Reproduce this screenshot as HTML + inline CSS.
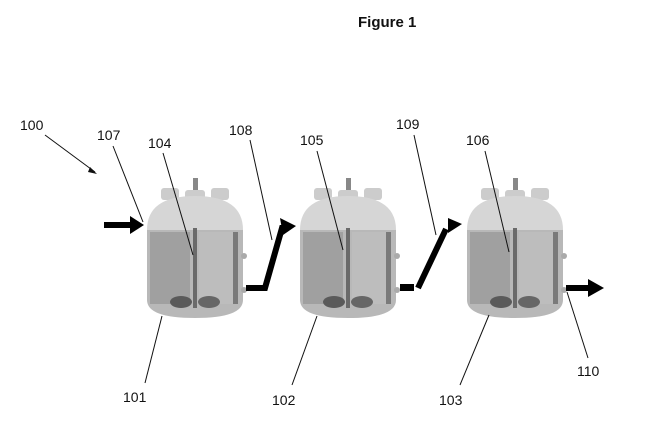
<!DOCTYPE html>
<html><head><style>
body{margin:0;background:#fff;width:652px;height:428px;overflow:hidden}
text{font-family:"Liberation Sans",sans-serif;font-size:14px;fill:#111}
</style></head><body>
<svg width="652" height="428" viewBox="0 0 652 428" xmlns="http://www.w3.org/2000/svg">
<defs>
<g id="v">
<rect x="46" y="0" width="5" height="15" fill="#888"/>
<rect x="14" y="10" width="18" height="12" rx="3" fill="#ccc"/>
<rect x="38" y="12" width="20" height="12" rx="3" fill="#ccc"/>
<rect x="64" y="10" width="18" height="12" rx="3" fill="#ccc"/>
<path d="M0,52 Q0,18 48,18 Q96,18 96,52 Z" fill="#d6d6d6"/>
<path d="M0,52 L96,52 L96,122 Q96,140 48,140 Q0,140 0,122 Z" fill="#b8b8b8"/>
<rect x="3" y="54" width="40" height="72" fill="#a0a0a0"/>
<rect x="52" y="54" width="34" height="72" fill="#bdbdbd"/>
<rect x="86" y="54" width="5" height="72" fill="#7a7a7a"/>
<rect x="46" y="50" width="4" height="80" fill="#6a6a6a"/>
<ellipse cx="34" cy="124" rx="11" ry="6" fill="#5a5a5a"/>
<ellipse cx="62" cy="124" rx="11" ry="6" fill="#666"/>
<circle cx="97" cy="78" r="3" fill="#aaa"/>
<circle cx="97" cy="112" r="3" fill="#aaa"/>
</g>
</defs>
<text x="358" y="27" style="font-weight:bold;font-size:15px">Figure 1</text>

<use href="#v" x="147" y="178"/>
<use href="#v" x="300" y="178"/>
<use href="#v" x="467" y="178"/>

<g stroke="#111" stroke-width="1" fill="none">
<line x1="45" y1="135" x2="95" y2="172"/>
<line x1="113" y1="146" x2="143" y2="222"/>
<line x1="163" y1="153" x2="193" y2="255"/>
<line x1="250" y1="140" x2="272" y2="240"/>
<line x1="317" y1="151" x2="343" y2="250"/>
<line x1="414" y1="135" x2="436" y2="235"/>
<line x1="485" y1="151" x2="509" y2="252"/>
<line x1="145" y1="383" x2="162" y2="316"/>
<line x1="292" y1="385" x2="317" y2="316"/>
<line x1="460" y1="385" x2="489" y2="315"/>
<line x1="588" y1="358" x2="567" y2="292"/>
</g>
<polygon points="90,167 97,174 88,172" fill="#111"/>

<g fill="#000">
<rect x="104" y="222" width="28" height="6"/>
<polygon points="130,216 144,225 130,234"/>
<polyline points="246,288 265,288 282,228 288,228" stroke="#000" stroke-width="6" fill="none"/>
<polygon points="280,218 296,226 283,235"/>
<rect x="400" y="284" width="14" height="7"/>
<line x1="418" y1="288" x2="446" y2="229" stroke="#000" stroke-width="6"/>
<polygon points="448,218 462,224 448,233"/>
<rect x="566" y="285" width="24" height="6"/>
<polygon points="588,279 604,288 588,297"/>
</g>

<text x="20" y="130">100</text>
<text x="97" y="140">107</text>
<text x="148" y="148">104</text>
<text x="229" y="135">108</text>
<text x="300" y="145">105</text>
<text x="396" y="129">109</text>
<text x="466" y="145">106</text>
<text x="123" y="402">101</text>
<text x="272" y="405">102</text>
<text x="439" y="405">103</text>
<text x="577" y="376">110</text>
</svg>
</body></html>
